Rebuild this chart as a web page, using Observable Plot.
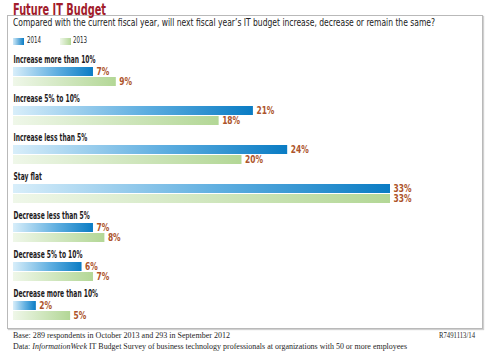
<!DOCTYPE html>
<html><head><meta charset="utf-8">
<script src="https://cdn.jsdelivr.net/npm/d3@7"></script>
<script src="https://cdn.jsdelivr.net/npm/@observablehq/plot@0.6"></script>
<style>
body{margin:0;background:#fff;}
#wrap{position:relative;width:489px;height:354px;overflow:hidden;font-family:"Liberation Sans Narrow","DejaVu Sans Condensed","Liberation Sans",sans-serif;}
.t{position:absolute;white-space:nowrap;line-height:1;transform-origin:0 0;}
#box{position:absolute;left:7px;top:15px;width:474px;height:312px;border:1px solid #b9b9b9;box-shadow:1px 1px 1px #d0d0d0;}
.sw{position:absolute;height:7px;}
.serif{font-family:"Liberation Serif","DejaVu Serif",serif;color:#262626;}
#chart{position:absolute;left:0;top:48px;}
</style></head>
<body>
<svg width="0" height="0" style="position:absolute">
  <defs>
    <linearGradient id="g2014" x1="0" x2="1" y1="0" y2="0">
      <stop offset="0" stop-color="#d8eefa"/>
      <stop offset="0.55" stop-color="#5eaee0"/>
      <stop offset="1" stop-color="#0a7cc4"/>
    </linearGradient>
    <linearGradient id="g2013" x1="0" x2="1" y1="0" y2="0">
      <stop offset="0" stop-color="#eff7e9"/>
      <stop offset="1" stop-color="#b3d796"/>
    </linearGradient>
  </defs>
</svg>
<div id="wrap">
  <div id="box"></div>
  <div class="t" id="title" style="left:13px;top:1.5px;font-size:16px;font-weight:bold;color:#a21c2c;">Future IT Budget</div>
  <div class="t" id="sub" style="left:13px;top:18.3px;font-size:10px;color:#222;">Compared with the current fiscal year, will next fiscal year’s IT budget increase, decrease or remain the same?</div>
  <div class="sw" style="left:13px;top:37.5px;width:11px;background:linear-gradient(90deg,#cfe9f8,#0a7cc4);"></div>
  <div class="t" id="l2014" style="left:27px;top:36.5px;font-size:8px;color:#222;">2014</div>
  <div class="sw" style="left:60px;top:37.5px;width:11px;background:linear-gradient(90deg,#eff7e9,#b3d796);"></div>
  <div class="t" id="l2013" style="left:73px;top:36.5px;font-size:8px;color:#222;">2013</div>
  <div id="chart"></div>
  <div class="t serif" id="base" style="left:13px;top:331.4px;font-size:8.5px;">Base: 289 respondents in October 2013 and 293 in September 2012</div>
  <div class="t serif" id="code" style="left:439px;top:332.3px;font-size:8px;">R7491113/14</div>
  <div class="t serif" id="src" style="left:13px;top:341.9px;font-size:8.5px;">Data: <i>InformationWeek</i> IT Budget Survey of business technology professionals at organizations with 50 or more employees</div>
</div>
<script>
const categories = [
  "Increase more than 10%",
  "Increase 5% to 10%",
  "Increase less than 5%",
  "Stay flat",
  "Decrease less than 5%",
  "Decrease 5% to 10%",
  "Decrease more than 10%"
];
const years = ["2014", "2013"];
const values2014 = [7, 21, 24, 33, 7, 6, 2];
const values2013 = [9, 18, 20, 33, 8, 7, 5];

const data = categories.flatMap((c, i) => [
  {category: c, year: "2014", value: values2014[i]},
  {category: c, year: "2013", value: values2013[i]}
]);

const FONT = '"Liberation Sans Narrow","DejaVu Sans Condensed","Liberation Sans",sans-serif';

const chart = Plot.plot({
  width: 489,
  height: 280,
  marginLeft: 13,
  marginRight: 99,
  marginTop: 17,
  marginBottom: 6,
  x: {domain: [0, 33], axis: null},
  y: {domain: years, axis: null, paddingInner: 0.1, paddingOuter: 0},
  fy: {domain: categories, axis: null, paddingInner: 0.48, paddingOuter: 0},
  style: {fontFamily: FONT, fontSize: "10px", background: "transparent", overflow: "visible"},
  marks: [
    Plot.barX(data.filter(d => d.year === "2014"), {x: "value", y: "year", fy: "category", fill: "url(#g2014)"}),
    Plot.barX(data.filter(d => d.year === "2013"), {x: "value", y: "year", fy: "category", fill: "url(#g2013)"}),
    Plot.text(categories, {fy: d => d, y: () => "2014", frameAnchor: "left", textAnchor: "start", lineAnchor: "middle", dy: -12, fontWeight: "bold", fontSize: 10, fill: "#1e1b1c", className: "cat", text: d => d}),
    Plot.text(data, {x: "value", y: "year", fy: "category", text: d => d.value + "%", dx: 3, textAnchor: "start", fill: "#ad542b", fontSize: 10, fontWeight: "bold", className: "val"})
  ]
});
document.getElementById("chart").appendChild(chart);

// condense SVG text to match the narrow typeface of the original
function condense(sel, refText, target) {
  const nodes = Array.from(document.querySelectorAll(sel));
  const ref = nodes.find(n => n.textContent === refText) || nodes[0];
  if (!ref) return;
  const k = target / ref.getComputedTextLength();
  nodes.forEach(n => {
    const L = n.getComputedTextLength();
    n.setAttribute("textLength", L * k);
    n.setAttribute("lengthAdjust", "spacingAndGlyphs");
  });
}
condense(".cat text", "Increase more than 10%", 82);
condense(".val text", "33%", 18);

// condense HTML text to target widths
function fit(id, target) {
  const el = document.getElementById(id);
  const w = el.getBoundingClientRect().width;
  el.style.transform = `scaleX(${target / w})`;
}
fit("title", 93);
fit("sub", 422);
fit("l2014", 14);
fit("l2013", 14);
fit("base", 217);
fit("code", 36);
fit("src", 394);
</script>
</body></html>
